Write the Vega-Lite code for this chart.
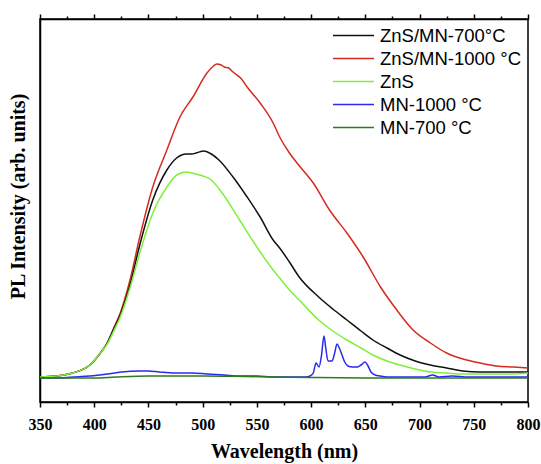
{
  "$schema": "https://vega.github.io/schema/vega-lite/v6.json",
  "autosize": {"type": "none"},
  "padding": {"left": 40, "top": 19, "right": 13, "bottom": 62},
  "width": 488,
  "height": 383,
  "background": "white",
  "config": {
    "view": {"stroke": "black", "strokeWidth": 1.5},
    "axis": {"domainColor": "black", "domainWidth": 1.5, "tickColor": "black", "tickWidth": 1.5, "grid": false}
  },
  "data": {"values": [
    {"s":"ZnS/MN-1000 °C","w":350,"v":1},{"s":"ZnS/MN-1000 °C","w":365,"v":2},{"s":"ZnS/MN-1000 °C","w":380,"v":5},{"s":"ZnS/MN-1000 °C","w":396,"v":13},{"s":"ZnS/MN-1000 °C","w":405,"v":24},{"s":"ZnS/MN-1000 °C","w":412,"v":35},{"s":"ZnS/MN-1000 °C","w":418,"v":50},{"s":"ZnS/MN-1000 °C","w":424,"v":65},{"s":"ZnS/MN-1000 °C","w":433,"v":98},{"s":"ZnS/MN-1000 °C","w":442,"v":141},{"s":"ZnS/MN-1000 °C","w":454,"v":191},{"s":"ZnS/MN-1000 °C","w":467,"v":228},{"s":"ZnS/MN-1000 °C","w":479,"v":261},{"s":"ZnS/MN-1000 °C","w":491,"v":281},{"s":"ZnS/MN-1000 °C","w":504,"v":305},{"s":"ZnS/MN-1000 °C","w":510,"v":312},{"s":"ZnS/MN-1000 °C","w":513,"v":314},{"s":"ZnS/MN-1000 °C","w":517,"v":313},{"s":"ZnS/MN-1000 °C","w":520,"v":311},{"s":"ZnS/MN-1000 °C","w":524,"v":310},{"s":"ZnS/MN-1000 °C","w":528,"v":306},{"s":"ZnS/MN-1000 °C","w":535,"v":300},{"s":"ZnS/MN-1000 °C","w":541,"v":291},{"s":"ZnS/MN-1000 °C","w":553,"v":275},{"s":"ZnS/MN-1000 °C","w":565,"v":255},{"s":"ZnS/MN-1000 °C","w":571,"v":241},{"s":"ZnS/MN-1000 °C","w":580,"v":225},{"s":"ZnS/MN-1000 °C","w":587,"v":215},{"s":"ZnS/MN-1000 °C","w":602,"v":195},{"s":"ZnS/MN-1000 °C","w":617,"v":168},{"s":"ZnS/MN-1000 °C","w":633,"v":145},{"s":"ZnS/MN-1000 °C","w":648,"v":121},{"s":"ZnS/MN-1000 °C","w":664,"v":91},{"s":"ZnS/MN-1000 °C","w":679,"v":68},{"s":"ZnS/MN-1000 °C","w":694,"v":48},{"s":"ZnS/MN-1000 °C","w":710,"v":35},{"s":"ZnS/MN-1000 °C","w":725,"v":25},{"s":"ZnS/MN-1000 °C","w":740,"v":19},{"s":"ZnS/MN-1000 °C","w":756,"v":15},{"s":"ZnS/MN-1000 °C","w":771,"v":12},{"s":"ZnS/MN-1000 °C","w":786,"v":11},{"s":"ZnS/MN-1000 °C","w":800,"v":10},
    {"s":"ZnS/MN-700°C","w":350,"v":1},{"s":"ZnS/MN-700°C","w":365,"v":2},{"s":"ZnS/MN-700°C","w":380,"v":5},{"s":"ZnS/MN-700°C","w":396,"v":13},{"s":"ZnS/MN-700°C","w":405,"v":24},{"s":"ZnS/MN-700°C","w":412,"v":35},{"s":"ZnS/MN-700°C","w":418,"v":49},{"s":"ZnS/MN-700°C","w":424,"v":63},{"s":"ZnS/MN-700°C","w":433,"v":93},{"s":"ZnS/MN-700°C","w":442,"v":133},{"s":"ZnS/MN-700°C","w":454,"v":178},{"s":"ZnS/MN-700°C","w":467,"v":208},{"s":"ZnS/MN-700°C","w":476,"v":220},{"s":"ZnS/MN-700°C","w":485,"v":224},{"s":"ZnS/MN-700°C","w":490,"v":224},{"s":"ZnS/MN-700°C","w":494,"v":225},{"s":"ZnS/MN-700°C","w":501,"v":227},{"s":"ZnS/MN-700°C","w":508,"v":224},{"s":"ZnS/MN-700°C","w":515,"v":218},{"s":"ZnS/MN-700°C","w":528,"v":201},{"s":"ZnS/MN-700°C","w":541,"v":181},{"s":"ZnS/MN-700°C","w":553,"v":161},{"s":"ZnS/MN-700°C","w":565,"v":138},{"s":"ZnS/MN-700°C","w":571,"v":130},{"s":"ZnS/MN-700°C","w":580,"v":116},{"s":"ZnS/MN-700°C","w":589,"v":101},{"s":"ZnS/MN-700°C","w":607,"v":81},{"s":"ZnS/MN-700°C","w":620,"v":69},{"s":"ZnS/MN-700°C","w":633,"v":58},{"s":"ZnS/MN-700°C","w":646,"v":47},{"s":"ZnS/MN-700°C","w":657,"v":38},{"s":"ZnS/MN-700°C","w":670,"v":30},{"s":"ZnS/MN-700°C","w":682,"v":23},{"s":"ZnS/MN-700°C","w":696,"v":17},{"s":"ZnS/MN-700°C","w":710,"v":13},{"s":"ZnS/MN-700°C","w":725,"v":10},{"s":"ZnS/MN-700°C","w":740,"v":7},{"s":"ZnS/MN-700°C","w":756,"v":6},{"s":"ZnS/MN-700°C","w":771,"v":6},{"s":"ZnS/MN-700°C","w":786,"v":6},{"s":"ZnS/MN-700°C","w":800,"v":6},
    {"s":"ZnS","w":350,"v":1},{"s":"ZnS","w":365,"v":2},{"s":"ZnS","w":380,"v":5},{"s":"ZnS","w":396,"v":13},{"s":"ZnS","w":405,"v":24},{"s":"ZnS","w":412,"v":34},{"s":"ZnS","w":418,"v":47},{"s":"ZnS","w":424,"v":61},{"s":"ZnS","w":433,"v":90},{"s":"ZnS","w":442,"v":125},{"s":"ZnS","w":454,"v":165},{"s":"ZnS","w":467,"v":191},{"s":"ZnS","w":476,"v":203},{"s":"ZnS","w":485,"v":206},{"s":"ZnS","w":490,"v":205},{"s":"ZnS","w":497,"v":203},{"s":"ZnS","w":508,"v":198},{"s":"ZnS","w":518,"v":185},{"s":"ZnS","w":534,"v":158},{"s":"ZnS","w":550,"v":131},{"s":"ZnS","w":565,"v":108},{"s":"ZnS","w":571,"v":100},{"s":"ZnS","w":580,"v":88},{"s":"ZnS","w":589,"v":78},{"s":"ZnS","w":607,"v":58},{"s":"ZnS","w":620,"v":47},{"s":"ZnS","w":633,"v":38},{"s":"ZnS","w":646,"v":30},{"s":"ZnS","w":657,"v":23},{"s":"ZnS","w":670,"v":17},{"s":"ZnS","w":682,"v":13},{"s":"ZnS","w":696,"v":9},{"s":"ZnS","w":710,"v":6},{"s":"ZnS","w":725,"v":5},{"s":"ZnS","w":740,"v":4},{"s":"ZnS","w":756,"v":4},{"s":"ZnS","w":771,"v":4},{"s":"ZnS","w":786,"v":4},{"s":"ZnS","w":800,"v":5},
    {"s":"MN-1000 °C","w":350,"v":0},{"s":"MN-1000 °C","w":365,"v":0},{"s":"MN-1000 °C","w":380,"v":1},{"s":"MN-1000 °C","w":396,"v":2},{"s":"MN-1000 °C","w":412,"v":4},{"s":"MN-1000 °C","w":425,"v":6},{"s":"MN-1000 °C","w":442,"v":7},{"s":"MN-1000 °C","w":450,"v":7},{"s":"MN-1000 °C","w":460,"v":6},{"s":"MN-1000 °C","w":474,"v":5},{"s":"MN-1000 °C","w":490,"v":5},{"s":"MN-1000 °C","w":504,"v":4},{"s":"MN-1000 °C","w":520,"v":3},{"s":"MN-1000 °C","w":534,"v":2},{"s":"MN-1000 °C","w":550,"v":2},{"s":"MN-1000 °C","w":565,"v":1},{"s":"MN-1000 °C","w":580,"v":1},{"s":"MN-1000 °C","w":595,"v":1},{"s":"MN-1000 °C","w":599,"v":2},{"s":"MN-1000 °C","w":602,"v":5},{"s":"MN-1000 °C","w":604.5,"v":15},{"s":"MN-1000 °C","w":607.3,"v":11},{"s":"MN-1000 °C","w":609.5,"v":22},{"s":"MN-1000 °C","w":611.9,"v":42},{"s":"MN-1000 °C","w":613.5,"v":30},{"s":"MN-1000 °C","w":615.6,"v":17},{"s":"MN-1000 °C","w":619.3,"v":17},{"s":"MN-1000 °C","w":621.5,"v":24},{"s":"MN-1000 °C","w":623.9,"v":34},{"s":"MN-1000 °C","w":626,"v":30},{"s":"MN-1000 °C","w":628.5,"v":23},{"s":"MN-1000 °C","w":631,"v":16},{"s":"MN-1000 °C","w":634,"v":12},{"s":"MN-1000 °C","w":638,"v":11},{"s":"MN-1000 °C","w":642.3,"v":11},{"s":"MN-1000 °C","w":646,"v":13},{"s":"MN-1000 °C","w":649.7,"v":16},{"s":"MN-1000 °C","w":652,"v":13},{"s":"MN-1000 °C","w":655.2,"v":6},{"s":"MN-1000 °C","w":659,"v":3},{"s":"MN-1000 °C","w":663.5,"v":2},{"s":"MN-1000 °C","w":670,"v":1},{"s":"MN-1000 °C","w":690,"v":1},{"s":"MN-1000 °C","w":705,"v":1},{"s":"MN-1000 °C","w":712,"v":3},{"s":"MN-1000 °C","w":718,"v":1},{"s":"MN-1000 °C","w":730,"v":2},{"s":"MN-1000 °C","w":745,"v":1},{"s":"MN-1000 °C","w":760,"v":1},{"s":"MN-1000 °C","w":780,"v":1},{"s":"MN-1000 °C","w":800,"v":1},
    {"s":"MN-700 °C","w":350,"v":0},{"s":"MN-700 °C","w":400,"v":0},{"s":"MN-700 °C","w":420,"v":1},{"s":"MN-700 °C","w":450,"v":2},{"s":"MN-700 °C","w":500,"v":2},{"s":"MN-700 °C","w":540,"v":1.5},{"s":"MN-700 °C","w":570,"v":1},{"s":"MN-700 °C","w":600,"v":0.5},{"s":"MN-700 °C","w":650,"v":0},{"s":"MN-700 °C","w":700,"v":0},{"s":"MN-700 °C","w":750,"v":0},{"s":"MN-700 °C","w":800,"v":0}
  ]},
  "encoding": {
    "y": {"field": "v", "type": "quantitative", "scale": {"domain": [-24, 359], "nice": false, "zero": false},
      "axis": {"orient": "left", "labels": false, "ticks": false, "title": "PL Intensity (arb. units)",
        "titleFont": "Liberation Serif", "titleFontWeight": "bold", "titleFontSize": 20, "titleColor": "black", "titlePadding": 12, "titleY": 177}}
  },
  "resolve": {"axis": {"x": "independent"}},
  "layer": [
    {
      "mark": {"type": "line", "strokeWidth": 1.5, "interpolate": "monotone"},
      "encoding": {
        "x": {"field": "w", "type": "quantitative", "scale": {"domain": [350, 800], "nice": false, "zero": false},
          "axis": {"orient": "bottom", "values": [350,400,450,500,550,600,650,700,750,800], "title": "Wavelength (nm)",
            "labelFont": "Liberation Serif", "labelFontWeight": "bold", "labelFontSize": 16, "labelColor": "black",
            "tickSize": 5, "labelPadding": 9, "labelFlush": false,
            "titleFont": "Liberation Serif", "titleFontWeight": "bold", "titleFontSize": 20, "titleColor": "black", "titlePadding": 9}},
        "color": {"field": "s", "type": "nominal",
          "scale": {"domain": ["ZnS/MN-700°C", "ZnS/MN-1000 °C", "ZnS", "MN-1000 °C", "MN-700 °C"],
                    "range": ["#111111", "#d42a20", "#7ff03a", "#2a2af0", "#2f7a1e"]},
          "legend": {"orient": "none", "legendX": 292, "legendY": 5, "title": null,
            "symbolType": "stroke", "symbolSize": 1681, "symbolStrokeWidth": 1.5, "clipHeight": 23,
            "labelFont": "Liberation Sans", "labelFontSize": 18.5, "labelColor": "black", "labelOffset": 5, "rowPadding": 0}}
      }
    },
    {
      "mark": {"type": "point", "opacity": 0},
      "encoding": {
        "x": {"field": "w", "type": "quantitative", "axis": {"orient": "bottom", "values": [375,425,475,525,575,625,675,725,775], "labels": false, "title": null, "tickSize": 3, "domain": false}}
      }
    },
    {
      "mark": {"type": "point", "opacity": 0},
      "encoding": {
        "x": {"field": "w", "type": "quantitative", "axis": {"orient": "top", "values": [350,400,450,500,550,600,650,700,750,800], "labels": false, "title": null, "tickSize": 5}}
      }
    },
    {
      "mark": {"type": "point", "opacity": 0},
      "encoding": {
        "x": {"field": "w", "type": "quantitative", "axis": {"orient": "top", "values": [375,425,475,525,575,625,675,725,775], "labels": false, "title": null, "tickSize": 3, "domain": false}}
      }
    }
  ]
}
